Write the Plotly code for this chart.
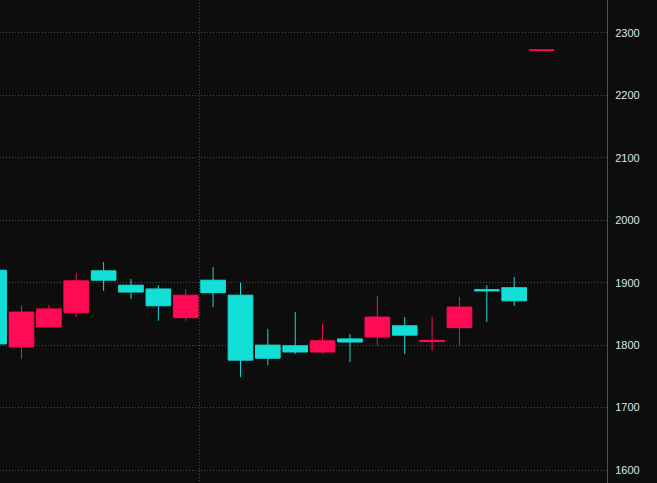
import plotly.graph_objects as go

# candle index (session number)
sessions = list(range(21))
opens  = [1802, 1853, 1858, 1903, 1904, 1885, 1863, 1880, 1884, 1776, 1779, 1789, 1807, 1805, 1845, 1816, 1807.6, 1861, 1886.8, 1871, 2273]
highs  = [1925, 1863, 1864, 1916, 1933, 1906, 1896, 1890, 1925, 1900, 1826, 1853, 1834, 1818, 1879, 1845, 1845, 1877, 1896, 1909, 2273]
lows   = [1795, 1778, 1829, 1845, 1887, 1874, 1839, 1839, 1861, 1749, 1768, 1786, 1786, 1773, 1799, 1786, 1791, 1799, 1837, 1863, 2272]
closes = [1920, 1797, 1829, 1852, 1919, 1896, 1890, 1844, 1904, 1880, 1800, 1799, 1789, 1810, 1813, 1831, 1805.6, 1828, 1888.8, 1892, 2272]

y_ticks = [1600, 1700, 1800, 1900, 2000, 2100, 2200, 2300]
x_grid = [7.5]

UP = "#12dfd8"
DOWN = "#ff0a54"
BG = "#0d0d0d"
GRID = "#4a4a4a"

fig = go.Figure(go.Candlestick(
    x=sessions, open=opens, high=highs, low=lows, close=closes,
    increasing=dict(line=dict(color=UP, width=1), fillcolor=UP),
    decreasing=dict(line=dict(color=DOWN, width=1), fillcolor=DOWN),
    whiskerwidth=0, hoverinfo="skip",
))

fig.update_layout(
    width=657, height=483,
    margin=dict(l=0, r=50, t=0, b=0),
    paper_bgcolor=BG, plot_bgcolor=BG,
    showlegend=False,
    boxgap=0.1, boxgroupgap=0,
    font=dict(family="Liberation Sans, Arial, sans-serif", size=11, color="#dce4ec"),
)
fig.update_xaxes(
    range=[0.2145, 22.39], rangeslider=dict(visible=False),
    showticklabels=False, tickvals=x_grid, ticks="",
    showgrid=True, gridcolor=GRID, griddash="1px,2px", gridwidth=1,
    zeroline=False, showline=False,
)
fig.update_yaxes(
    side="right", range=[1579.2, 2352.8], tickvals=y_ticks,
    showgrid=True, gridcolor=GRID, griddash="1px,2px", gridwidth=1,
    zeroline=False, showline=True, linecolor="#505050", linewidth=1,
    ticks="", ticklabelstandoff=5,
)

fig.write_html(
    "out.html",
    config={"displayModeBar": False},
    post_script="document.body.style.margin='0';document.body.style.background='#0d0d0d';document.body.style.overflow='hidden';",
)
